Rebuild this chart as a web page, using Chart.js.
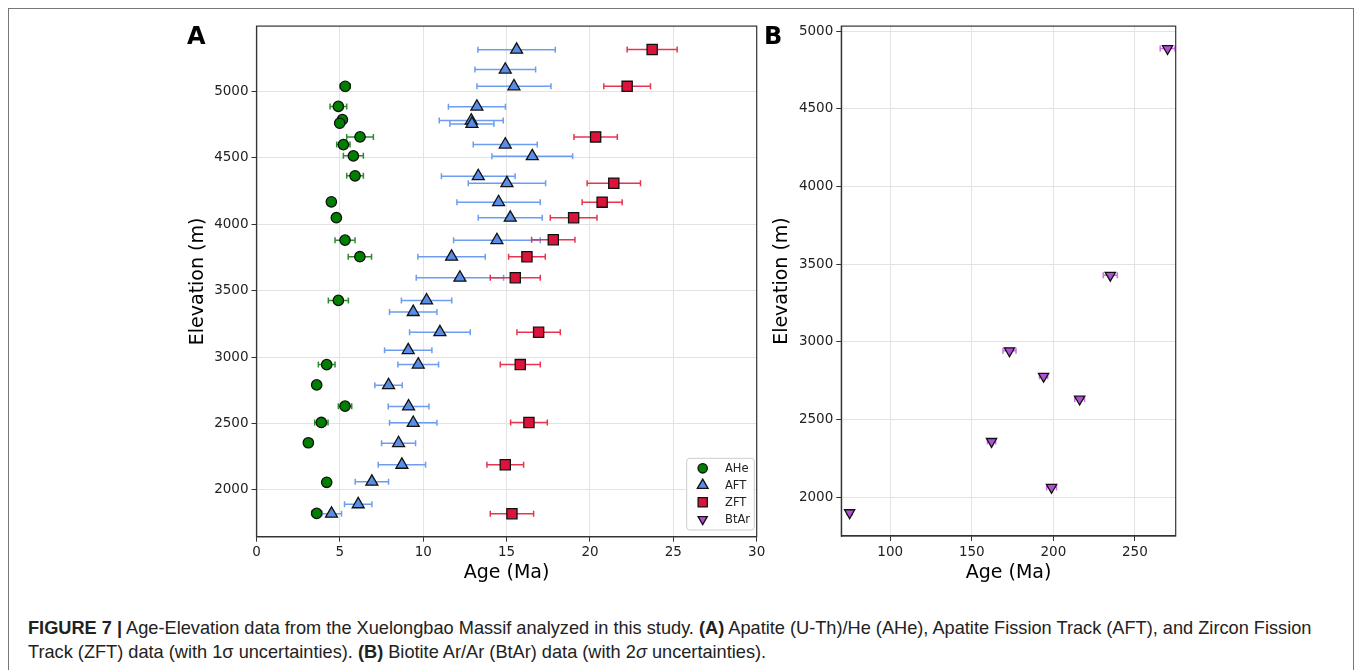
<!DOCTYPE html>
<html>
<head>
<meta charset="utf-8">
<script src="https://cdn.jsdelivr.net/npm/chart.js@4"></script>
<style>
  body { margin: 0; background: #fff; width: 1355px; height: 670px; overflow: hidden; position: relative; }
  #frame { position: absolute; left: 8px; top: 8px; width: 1346px; height: 700px; border: 1.5px solid #777; box-sizing: border-box; }
  canvas { position: absolute; }
  .panel { position: absolute; font-family: 'DejaVu Sans'; font-weight: bold; font-size: 24px; line-height: 24px; color: #000; }
  #caption { position: absolute; left: 28px; top: 616px; font-family: 'Liberation Sans', Arial, sans-serif; font-size: 18.2px; line-height: 24px; color: #222; white-space: nowrap; }
</style>
</head>
<body>
<div id="frame"></div>
<canvas id="chartA" width="625" height="590" style="left:150px; top:15px;"></canvas>
<canvas id="chartB" width="455" height="590" style="left:740px; top:15px;"></canvas>
<div class="panel" style="left:187px; top:24px;">A</div>
<div class="panel" style="left:764px; top:24px;">B</div>
<div id="caption">
  <b>FIGURE 7 |</b> Age-Elevation data from the Xuelongbao Massif analyzed in this study. <b>(A)</b> Apatite (U-Th)/He (AHe), Apatite Fission Track (AFT), and Zircon Fission<br>
  Track (ZFT) data (with 1σ uncertainties). <b>(B)</b> Biotite Ar/Ar (BtAr) data (with 2<i>σ</i> uncertainties).
</div>
<script>
// --- data ---
const ageAHe = [5.32, 4.91, 5.15, 4.99, 6.21, 5.21, 5.81, 5.91, 4.49, 4.79, 5.31, 6.2, 4.91, 4.21, 3.61, 5.31, 3.89, 3.11, 4.21, 3.61];
const elevAHe = [5040, 4889, 4789, 4762, 4659, 4601, 4516, 4366, 4170, 4050, 3881, 3756, 3427, 2943, 2790, 2630, 2507, 2354, 2056, 1822];
const errAHe = [0.3, 0.5, 0.2, 0.2, 0.8, 0.4, 0.6, 0.5, 0, 0.2, 0.6, 0.7, 0.6, 0.5, 0, 0.4, 0.4, 0, 0, 0.3];

const ageAFT = [15.6, 14.92, 15.44, 13.22, 12.88, 12.92, 14.92, 16.54, 13.3, 15.02, 14.52, 15.22, 14.42, 11.7, 12.2, 10.2, 9.4, 11.0, 9.1, 9.7, 7.92, 9.12, 9.4, 8.52, 8.72, 6.92, 6.1, 4.5];
const elevAFT = [5316, 5166, 5040, 4887, 4782, 4757, 4601, 4513, 4363, 4310, 4167, 4050, 3881, 3756, 3598, 3427, 3339, 3187, 3051, 2943, 2788, 2628, 2504, 2351, 2188, 2060, 1890, 1819];
const errAFT = [2.32, 1.82, 2.22, 1.71, 1.92, 1.32, 1.92, 2.42, 2.21, 2.32, 2.5, 1.92, 2.6, 2.02, 2.62, 1.51, 1.42, 1.82, 1.42, 1.22, 0.82, 1.22, 1.42, 1.02, 1.42, 1.0, 0.82, 0.6];

const ageZFT = [23.73, 22.23, 20.34, 21.43, 20.73, 19.02, 17.8, 16.22, 15.52, 16.92, 15.82, 16.34, 14.92, 15.32];
const elevZFT = [5318, 5040, 4659, 4310, 4167, 4050, 3884, 3756, 3598, 3187, 2943, 2507, 2188, 1819];
const errZFT = [1.5, 1.4, 1.3, 1.6, 1.2, 1.4, 1.3, 1.1, 1.5, 1.3, 1.2, 1.1, 1.1, 1.3];

const ageBtAr = [270.0, 234.9, 173.1, 194.0, 216.1, 162.1, 198.9, 75.1];
const elevBtAr = [4889, 3429, 2942, 2778, 2631, 2358, 2062, 1899];
const errBtAr = [4.5, 4.3, 4, 2.5, 3, 2.5, 3, 1.5];

const xTicksA = [0, 5, 10, 15, 20, 25, 30];
const yTicksA = [2000, 2500, 3000, 3500, 4000, 4500, 5000];
const xTicksB = [100, 150, 200, 250];
const yTicksB = [2000, 2500, 3000, 3500, 4000, 4500, 5000];
const seriesNames = ['AHe', 'AFT', 'ZFT', 'BtAr'];

function points(xs, ys) {
  return xs.map((x, i) => ({ x: x, y: ys[i] }));
}

const markers = {
  AHe:  { pointStyle: 'circle',   radius: 5.2, rotation: 0,   fill: '#008000', bar: '#2e8b2e' },
  AFT:  { pointStyle: 'triangle', radius: 6.9, rotation: 0,   fill: '#5a8ee6', bar: '#6d9df0' },
  ZFT:  { pointStyle: 'rect',     radius: 7.2, rotation: 0,   fill: '#dc143c', bar: '#e8354f' },
  BtAr: { pointStyle: 'triangle', radius: 5.9, rotation: 180, fill: '#b34fd6', bar: '#d070e8' }
};

function makeDataset(name, xs, ys, errs) {
  const m = markers[name];
  return {
    label: name,
    data: points(xs, ys),
    errors: errs,
    errorColor: m.bar,
    pointStyle: m.pointStyle,
    pointRadius: m.radius,
    pointHoverRadius: m.radius,
    pointRotation: m.rotation,
    backgroundColor: m.fill,
    borderColor: '#111',
    borderWidth: 1.3,
    showLine: false
  };
}

// horizontal error bars, drawn under the markers
const errorBars = {
  id: 'errorBars',
  beforeDatasetsDraw(chart) {
    const ctx = chart.ctx;
    const x = chart.scales.x, y = chart.scales.y;
    ctx.save();
    chart.data.datasets.forEach(ds => {
      if (!ds.errors) return;
      ctx.strokeStyle = ds.errorColor;
      ctx.lineWidth = 1.5;
      ds.data.forEach((p, i) => {
        const e = ds.errors[i];
        if (!e) return;
        const x0 = x.getPixelForValue(p.x - e);
        const x1 = x.getPixelForValue(p.x + e);
        const py = y.getPixelForValue(p.y);
        ctx.beginPath();
        ctx.moveTo(x0, py); ctx.lineTo(x1, py);
        ctx.moveTo(x0, py - 3); ctx.lineTo(x0, py + 3);
        ctx.moveTo(x1, py - 3); ctx.lineTo(x1, py + 3);
        ctx.stroke();
      });
    });
    ctx.restore();
  }
};

// full box around the axes
const frame = {
  id: 'frame',
  afterDraw(chart) {
    const a = chart.chartArea, ctx = chart.ctx;
    ctx.save();
    ctx.strokeStyle = '#333';
    ctx.lineWidth = 1.2;
    ctx.strokeRect(a.left, a.top, a.right - a.left, a.bottom - a.top);
    ctx.restore();
  }
};

// legend box in the lower right of panel A
const cornerLegend = {
  id: 'cornerLegend',
  afterDraw(chart) {
    const a = chart.chartArea, ctx = chart.ctx;
    const w = 67.6, h = 71.7;
    const left = a.right - 2.4 - w, top = a.bottom - 6.7 - h;
    ctx.save();
    ctx.fillStyle = 'rgba(255,255,255,0.85)';
    ctx.strokeStyle = '#cccccc';
    ctx.lineWidth = 1;
    ctx.beginPath();
    ctx.roundRect(left, top, w, h, 3);
    ctx.fill();
    ctx.stroke();
    ctx.font = '11.5px "DejaVu Sans"';
    ctx.textBaseline = 'middle';
    seriesNames.forEach((name, i) => {
      const m = markers[name];
      const cy = top + 10 + i * 17;
      ctx.fillStyle = m.fill;
      ctx.strokeStyle = '#111';
      ctx.lineWidth = 1.3;
      Chart.helpers.drawPoint(ctx, { pointStyle: m.pointStyle, radius: m.radius * 0.9, rotation: m.rotation, borderWidth: 1.3 }, left + 16, cy);
      ctx.fillStyle = '#222';
      ctx.fillText(name, left + 38.3, cy + 0.5);
    });
    ctx.restore();
  }
};

const tickFont = { family: 'DejaVu Sans', size: 13.5 };
const titleFont = { family: 'DejaVu Sans', size: 19 };

function axisOptions(min, max, ticks, horizontal, fixedSize, titleText, titlePad) {
  return {
    type: 'linear',
    position: horizontal ? 'bottom' : 'left',
    min: min,
    max: max,
    afterBuildTicks: s => { s.ticks = ticks.map(v => ({ value: v })); },
    afterFit: s => { if (horizontal) s.height = fixedSize; else s.width = fixedSize; },
    grid: { color: '#e3e3e3', lineWidth: 1, tickColor: '#333', tickLength: 5, drawTicks: true },
    border: { display: true, color: '#333', width: 1.2 },
    ticks: { font: tickFont, color: '#222', padding: 3, callback: v => String(v) },
    title: { display: true, text: titleText, font: titleFont, color: '#000', padding: titlePad }
  };
}

Chart.defaults.animation = false;

new Chart(document.getElementById('chartA'), {
  type: 'scatter',
  data: {
    datasets: [
      makeDataset('AHe', ageAHe, elevAHe, errAHe),
      makeDataset('AFT', ageAFT, elevAFT, errAFT),
      makeDataset('ZFT', ageZFT, elevZFT, errZFT)
    ]
  },
  options: {
    responsive: false,
    devicePixelRatio: 1,
    layout: { padding: { left: 0, top: 10.3, right: 18.3, bottom: 0 } },
    plugins: { legend: { display: false }, tooltip: { enabled: false } },
    scales: {
      x: axisOptions(0, 30, xTicksA, true, 68.3, 'Age (Ma)', { top: 0, bottom: 20.6 }),
      y: axisOptions(1646, 5494, yTicksA, false, 106.5, 'Elevation (m)', { top: 36.6, bottom: 0 })
    }
  },
  plugins: [errorBars, frame, cornerLegend]
});

new Chart(document.getElementById('chartB'), {
  type: 'scatter',
  data: {
    datasets: [makeDataset('BtAr', ageBtAr, elevBtAr, errBtAr)]
  },
  options: {
    responsive: false,
    devicePixelRatio: 1,
    layout: { padding: { left: 0, top: 10.7, right: 19.3, bottom: 0 } },
    plugins: { legend: { display: false }, tooltip: { enabled: false } },
    scales: {
      x: axisOptions(70, 275, xTicksB, true, 69, 'Age (Ma)', { top: 0, bottom: 20.6 }),
      y: axisOptions(1749, 5034, yTicksB, false, 101.3, 'Elevation (m)', { top: 31.1, bottom: 0 })
    }
  },
  plugins: [errorBars, frame]
});
</script>
</body>
</html>
